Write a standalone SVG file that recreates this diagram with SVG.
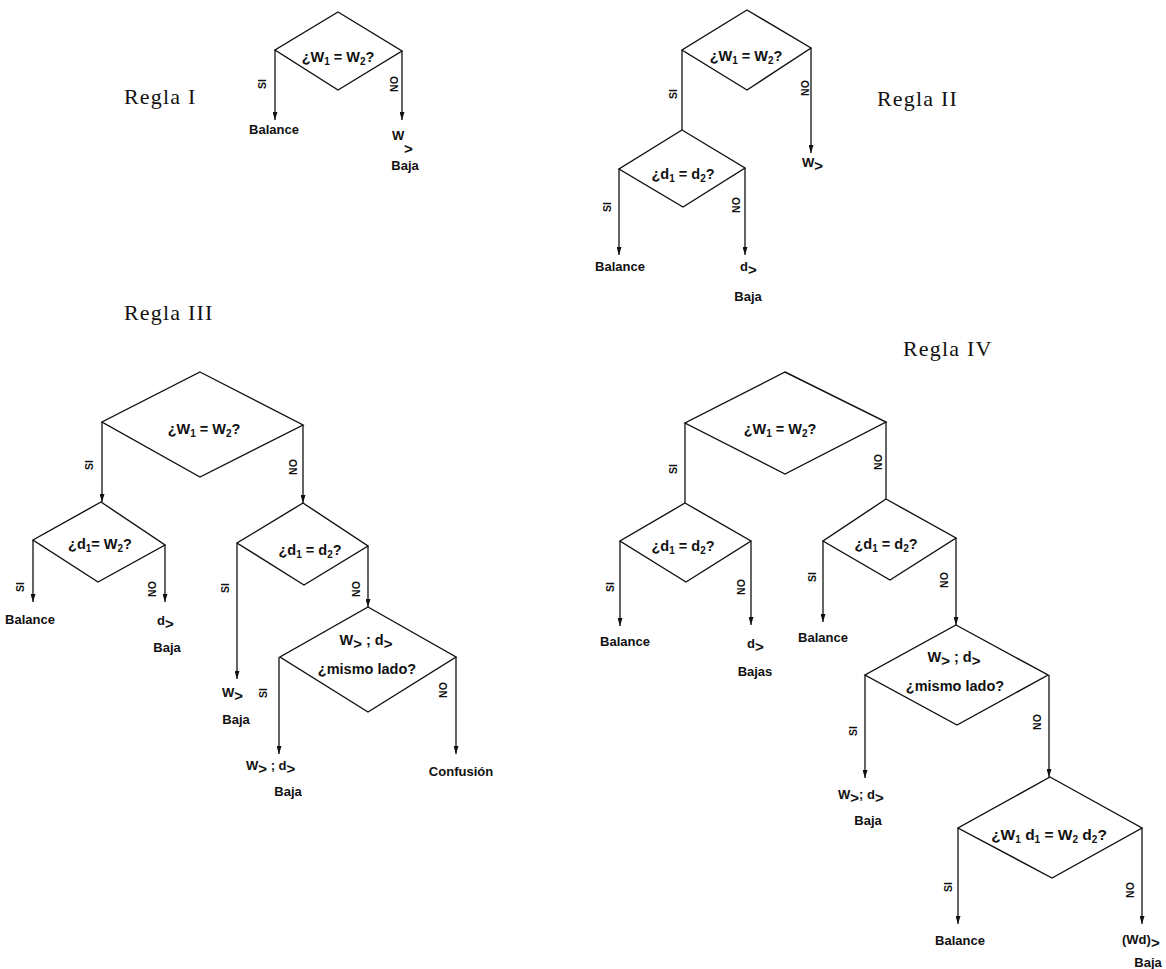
<svg xmlns="http://www.w3.org/2000/svg" width="1166" height="969" viewBox="0 0 1166 969">
<style>
.d{fill:none;stroke:#111;stroke-width:1.4}
.c{fill:none;stroke:#111;stroke-width:1.3}
.a{marker-end:url(#ah)}
text{font-family:"Liberation Sans",Arial,sans-serif;font-weight:bold;fill:#111}
.t{font-size:13px}
.q{font-size:14.5px;text-anchor:middle}
.m{text-anchor:middle}
.l{font-size:10.5px;text-anchor:middle}
.r{font-family:"Liberation Serif","Times New Roman",serif;font-weight:normal;font-size:22px;letter-spacing:1.2px}
.s{font-size:10px}
.g{font-size:15px}
</style>
<defs>
<marker id="ah" markerWidth="5" markerHeight="8" refX="2.5" refY="8" orient="0" markerUnits="userSpaceOnUse">
<path d="M0,0 L5,0 L2.5,8 z" fill="#111"/>
</marker>
</defs>
<rect width="1166" height="969" fill="#fff"/>

<g id="connectors">
<path class="c a" d="M275,50 V120"/>
<path class="c a" d="M402,51 V120"/>
<path class="c" d="M682,50 V130"/>
<path class="c a" d="M811,48 V153"/>
<path class="c a" d="M619,169 V255"/>
<path class="c a" d="M745,168 V255"/>
<path class="c a" d="M102,422 V502"/>
<path class="c a" d="M303,425 V503"/>
<path class="c a" d="M33,540 V602"/>
<path class="c a" d="M165,545 V602"/>
<path class="c a" d="M237,543 V679"/>
<path class="c a" d="M368,546 V607"/>
<path class="c a" d="M279,657 V754"/>
<path class="c a" d="M456,657 V754"/>
<path class="c" d="M685,423 V503"/>
<path class="c" d="M886,422 V499"/>
<path class="c a" d="M620,541 V626"/>
<path class="c a" d="M751,541 V625"/>
<path class="c a" d="M823,541 V622"/>
<path class="c a" d="M956,538 V625"/>
<path class="c a" d="M865,675 V778"/>
<path class="c a" d="M1049,675 V777"/>
<path class="c a" d="M958,828 V924"/>
<path class="c a" d="M1142,828 V924"/>
</g>

<g id="edge-labels">
<text class="l" transform="translate(262,84) rotate(-90)" dy="3.5">SI</text>
<text class="l" transform="translate(394,84) rotate(-90)" dy="3.5">NO</text>
<text class="l" transform="translate(673,94) rotate(-90)" dy="3.5">SI</text>
<text class="l" transform="translate(805,88) rotate(-90)" dy="3.5">NO</text>
<text class="l" transform="translate(607,207) rotate(-90)" dy="3.5">SI</text>
<text class="l" transform="translate(736,205) rotate(-90)" dy="3.5">NO</text>
<text class="l" transform="translate(89,465) rotate(-90)" dy="3.5">SI</text>
<text class="l" transform="translate(293,467) rotate(-90)" dy="3.5">NO</text>
<text class="l" transform="translate(20,587) rotate(-90)" dy="3.5">SI</text>
<text class="l" transform="translate(152,589) rotate(-90)" dy="3.5">NO</text>
<text class="l" transform="translate(225,588) rotate(-90)" dy="3.5">SI</text>
<text class="l" transform="translate(356,589) rotate(-90)" dy="3.5">NO</text>
<text class="l" transform="translate(263,693) rotate(-90)" dy="3.5">SI</text>
<text class="l" transform="translate(443,690) rotate(-90)" dy="3.5">NO</text>
<text class="l" transform="translate(673,469) rotate(-90)" dy="3.5">SI</text>
<text class="l" transform="translate(878,462) rotate(-90)" dy="3.5">NO</text>
<text class="l" transform="translate(610,587) rotate(-90)" dy="3.5">SI</text>
<text class="l" transform="translate(741,587) rotate(-90)" dy="3.5">NO</text>
<text class="l" transform="translate(812,577) rotate(-90)" dy="3.5">SI</text>
<text class="l" transform="translate(944,580) rotate(-90)" dy="3.5">NO</text>
<text class="l" transform="translate(853,731) rotate(-90)" dy="3.5">SI</text>
<text class="l" transform="translate(1037,722) rotate(-90)" dy="3.5">NO</text>
<text class="l" transform="translate(948,887) rotate(-90)" dy="3.5">SI</text>
<text class="l" transform="translate(1130,890) rotate(-90)" dy="3.5">NO</text>
</g>

<g id="regla1-title"><text class="r" x="124" y="104">Regla I</text></g>
<g id="r1-q1">
<polygon class="d" points="338,12 402,51 338,90 275,50"/>
<text class="q" x="338" y="62">¿W<tspan class="s" dy="3">1</tspan><tspan dy="-3"> = W</tspan><tspan class="s" dy="3">2</tspan><tspan dy="-3">?</tspan></text>
</g>
<g id="r1-balance"><text class="t m" x="274" y="134">Balance</text></g>
<g id="r1-wbaja">
<text class="t" x="392" y="140">W</text>
<text class="g" x="404" y="154">&gt;</text>
<text class="t m" x="405" y="170">Baja</text>
</g>

<g id="regla2-title"><text class="r" x="877" y="106">Regla II</text></g>
<g id="r2-q1">
<polygon class="d" points="747,10 811,48 747,90 682,50"/>
<text class="q" x="746" y="61">¿W<tspan class="s" dy="3">1</tspan><tspan dy="-3"> = W</tspan><tspan class="s" dy="3">2</tspan><tspan dy="-3">?</tspan></text>
</g>
<g id="r2-w"><text class="t" x="802" y="167">W<tspan class="g" dy="4">&gt;</tspan></text></g>
<g id="r2-q2">
<polygon class="d" points="682,130 745,168 683,207 619,169"/>
<text class="q" x="683" y="179">¿d<tspan class="s" dy="3">1</tspan><tspan dy="-3"> = d</tspan><tspan class="s" dy="3">2</tspan><tspan dy="-3">?</tspan></text>
</g>
<g id="r2-balance"><text class="t m" x="620" y="271">Balance</text></g>
<g id="r2-dbaja">
<text class="t" x="740" y="271">d<tspan class="g" dy="4">&gt;</tspan></text>
<text class="t m" x="748" y="301">Baja</text>
</g>

<g id="regla3-title"><text class="r" x="124" y="320">Regla III</text></g>
<g id="r3-q1">
<polygon class="d" points="200,372 303,425 200,477 102,422"/>
<text class="q" x="204" y="434">¿W<tspan class="s" dy="3">1</tspan><tspan dy="-3"> = W</tspan><tspan class="s" dy="3">2</tspan><tspan dy="-3">?</tspan></text>
</g>
<g id="r3-q2">
<polygon class="d" points="101,502 165,545 98,582 33,540"/>
<text class="q" x="100" y="549">¿d<tspan class="s" dy="3">1</tspan><tspan dy="-3">= W</tspan><tspan class="s" dy="3">2</tspan><tspan dy="-3">?</tspan></text>
</g>
<g id="r3-q3">
<polygon class="d" points="303,503 368,546 304,585 237,543"/>
<text class="q" x="310" y="555">¿d<tspan class="s" dy="3">1</tspan><tspan dy="-3"> = d</tspan><tspan class="s" dy="3">2</tspan><tspan dy="-3">?</tspan></text>
</g>
<g id="r3-q4">
<polygon class="d" points="368,607 456,657 368,712 280,657"/>
<text class="q" x="366" y="645">W<tspan class="g" dy="4">&gt;</tspan><tspan dy="-4"> ; d</tspan><tspan class="g" dy="4">&gt;</tspan></text>
<text class="q" x="367" y="674">¿mismo lado?</text>
</g>
<g id="r3-balance"><text class="t m" x="30" y="624">Balance</text></g>
<g id="r3-dbaja">
<text class="t" x="157" y="625">d<tspan class="g" dy="4">&gt;</tspan></text>
<text class="t m" x="167" y="652">Baja</text>
</g>
<g id="r3-wbaja">
<text class="t" x="222" y="697">W<tspan class="g" dy="4">&gt;</tspan></text>
<text class="t m" x="236" y="724">Baja</text>
</g>
<g id="r3-wdbaja">
<text class="t" x="246" y="770">W<tspan class="g" dy="4">&gt;</tspan><tspan dy="-4"> ; d</tspan><tspan class="g" dy="4">&gt;</tspan></text>
<text class="t m" x="288" y="796">Baja</text>
</g>
<g id="r3-confusion"><text class="t m" x="461" y="776">Confusión</text></g>

<g id="regla4-title"><text class="r" x="903" y="356">Regla IV</text></g>
<g id="r4-q1">
<polygon class="d" points="785,372 886,422 785,474 685,423"/>
<text class="q" x="780" y="434">¿W<tspan class="s" dy="3">1</tspan><tspan dy="-3"> = W</tspan><tspan class="s" dy="3">2</tspan><tspan dy="-3">?</tspan></text>
</g>
<g id="r4-q2">
<polygon class="d" points="685,503 751,541 686,582 620,541"/>
<text class="q" x="683" y="551">¿d<tspan class="s" dy="3">1</tspan><tspan dy="-3"> = d</tspan><tspan class="s" dy="3">2</tspan><tspan dy="-3">?</tspan></text>
</g>
<g id="r4-q3">
<polygon class="d" points="886,499 956,538 890,580 823,541"/>
<text class="q" x="886" y="549">¿d<tspan class="s" dy="3">1</tspan><tspan dy="-3"> = d</tspan><tspan class="s" dy="3">2</tspan><tspan dy="-3">?</tspan></text>
</g>
<g id="r4-balance1"><text class="t m" x="625" y="646">Balance</text></g>
<g id="r4-dbajas">
<text class="t" x="747" y="648">d<tspan class="g" dy="4">&gt;</tspan></text>
<text class="t m" x="755" y="676">Bajas</text>
</g>
<g id="r4-balance2"><text class="t m" x="823" y="642">Balance</text></g>
<g id="r4-q4">
<polygon class="d" points="956,625 1048,675 957,725 865,675"/>
<text class="q" x="954" y="662">W<tspan class="g" dy="4">&gt;</tspan><tspan dy="-4"> ; d</tspan><tspan class="g" dy="4">&gt;</tspan></text>
<text class="q" x="955" y="691">¿mismo lado?</text>
</g>
<g id="r4-wdbaja">
<text class="t" x="838" y="799">W<tspan class="g" dy="4">&gt;</tspan><tspan dy="-4">; d</tspan><tspan class="g" dy="4">&gt;</tspan></text>
<text class="t m" x="868" y="825">Baja</text>
</g>
<g id="r4-q5">
<polygon class="d" points="1050,777 1142,828 1052,878 958,828"/>
<text class="q" x="1049" y="840" style="font-size:15.5px">¿W<tspan class="s" dy="3">1</tspan><tspan dy="-3"> d</tspan><tspan class="s" dy="3">1</tspan><tspan dy="-3"> = W</tspan><tspan class="s" dy="3">2</tspan><tspan dy="-3"> d</tspan><tspan class="s" dy="3">2</tspan><tspan dy="-3">?</tspan></text>
</g>
<g id="r4-balance3"><text class="t m" x="960" y="945">Balance</text></g>
<g id="r4-wdbaja2">
<text class="t" x="1122" y="944">(Wd)<tspan class="g" dy="4">&gt;</tspan></text>
<text class="t m" x="1148" y="967">Baja</text>
</g>
</svg>
